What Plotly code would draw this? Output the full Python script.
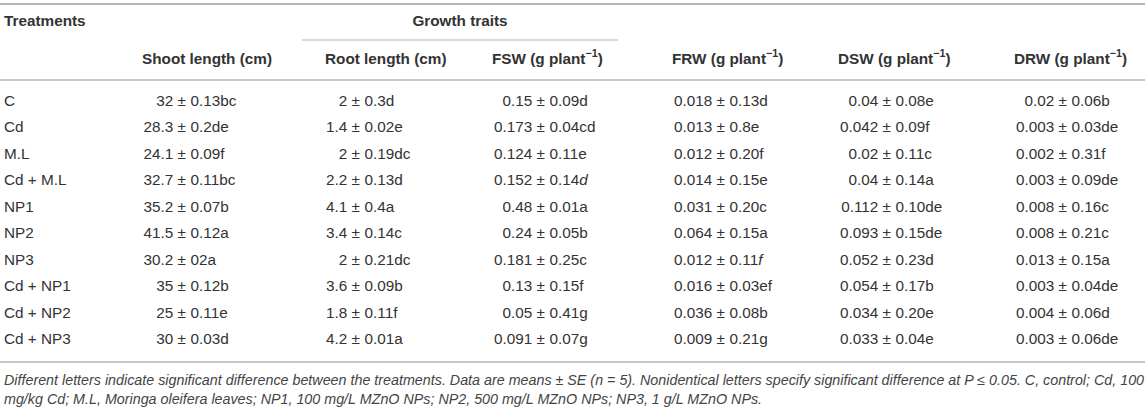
import plotly.graph_objects as go

# Данные таблицы
treatments = ["C", "Cd", "M.L", "Cd + M.L", "NP1", "NP2", "NP3",
              "Cd + NP1", "Cd + NP2", "Cd + NP3"]

shoot = ["32 ± 0.13bc", "28.3 ± 0.2de", "24.1 ± 0.09f", "32.7 ± 0.11bc",
         "35.2 ± 0.07b", "41.5 ± 0.12a", "30.2 ± 02a", "35 ± 0.12b",
         "25 ± 0.11e", "30 ± 0.03d"]
root = ["2 ± 0.3d", "1.4 ± 0.02e", "2 ± 0.19dc", "2.2 ± 0.13d", "4.1 ± 0.4a",
        "3.4 ± 0.14c", "2 ± 0.21dc", "3.6 ± 0.09b", "1.8 ± 0.11f", "4.2 ± 0.01a"]
fsw = ["0.15 ± 0.09d", "0.173 ± 0.04cd", "0.124 ± 0.11e", "0.152 ± 0.14<i>d</i>",
       "0.48 ± 0.01a", "0.24 ± 0.05b", "0.181 ± 0.25c", "0.13 ± 0.15f",
       "0.05 ± 0.41g", "0.091 ± 0.07g"]
frw = ["0.018 ± 0.13d", "0.013 ± 0.8e", "0.012 ± 0.20f", "0.014 ± 0.15e",
       "0.031 ± 0.20c", "0.064 ± 0.15a", "0.012 ± 0.11<i>f</i>", "0.016 ± 0.03ef",
       "0.036 ± 0.08b", "0.009 ± 0.21g"]
dsw = ["0.04 ± 0.08e", "0.042 ± 0.09f", "0.02 ± 0.11c", "0.04 ± 0.14a",
       "0.112 ± 0.10de", "0.093 ± 0.15de", "0.052 ± 0.23d", "0.054 ± 0.17b",
       "0.034 ± 0.20e", "0.033 ± 0.04e"]
drw = ["0.02 ± 0.06b", "0.003 ± 0.03de", "0.002 ± 0.31f", "0.003 ± 0.09de",
       "0.008 ± 0.16c", "0.008 ± 0.21c", "0.013 ± 0.15a", "0.003 ± 0.04de",
       "0.004 ± 0.06d", "0.003 ± 0.06de"]

headers = ["Shoot length (cm)", "Root length (cm)", "FSW (g plant<sup>−1</sup>)",
           "FRW (g plant<sup>−1</sup>)", "DSW (g plant<sup>−1</sup>)",
           "DRW (g plant<sup>−1</sup>)"]
group_title = "Growth traits"
first_header = "Treatments"

footnote = ("<i>Different letters indicate significant difference between the treatments. "
            "Data are means ± SE (n = 5). Nonidentical letters specify significant difference "
            "at P ≤ 0.05. C, control; Cd, 100<br>mg/kg Cd; M.L, Moringa oleifera leaves; "
            "NP1, 100 mg/L MZnO NPs; NP2, 500 mg/L MZnO NPs; NP3, 1 g/L MZnO NPs.</i>")

# Раскладка (в пикселях)
W, H = 1145, 412
col_left = [142, 325, 492, 672, 838, 1014]   # левый край заголовков колонок
pm_x = [186, 360, 545, 725, 891, 1067]       # положение знака ±
row0, row_step = 102, 26.5
row_y = [row0 + i * row_step for i in range(len(treatments))]

FONT = "Liberation Sans, Arial, sans-serif"
TXT = "#333333"
RULE = "#b4b4b4"
SIZE = 15.3

fig = go.Figure()

# Первая колонка
fig.add_trace(go.Scatter(x=[4] * len(treatments), y=row_y, text=treatments,
                         mode="text", textposition="middle right",
                         textfont=dict(family=FONT, size=SIZE, color=TXT)))

# Колонки со значениями: выравнивание по знаку ±
for col, xp in zip([shoot, root, fsw, frw, dsw, drw], pm_x):
    left = [v.split(" ± ")[0] + " ±" for v in col]
    right = [v.split(" ± ")[1] for v in col]
    fig.add_trace(go.Scatter(x=[xp] * len(col), y=row_y, text=left, mode="text",
                             textposition="middle left",
                             textfont=dict(family=FONT, size=SIZE, color=TXT)))
    fig.add_trace(go.Scatter(x=[xp + 4.5] * len(col), y=row_y, text=right, mode="text",
                             textposition="middle right",
                             textfont=dict(family=FONT, size=SIZE, color=TXT)))

# Заголовки
bold = dict(family=FONT, size=SIZE, color=TXT, weight="bold")
fig.add_trace(go.Scatter(x=[4], y=[22], text=[first_header], mode="text",
                         textposition="middle right", textfont=bold))
fig.add_trace(go.Scatter(x=[460], y=[22], text=[group_title], mode="text",
                         textposition="middle center", textfont=bold))
fig.add_trace(go.Scatter(x=col_left, y=[60] * len(headers), text=headers, mode="text",
                         textposition="middle right", textfont=bold))

# Линии таблицы
fig.add_shape(type="line", x0=0, x1=W, y0=4, y1=4, line=dict(color=RULE, width=2))
fig.add_shape(type="line", x0=302, x1=618, y0=40, y1=40, line=dict(color=RULE, width=1.2))
fig.add_shape(type="line", x0=0, x1=W, y0=80, y1=80, line=dict(color=RULE, width=1.5))
fig.add_shape(type="line", x0=0, x1=W, y0=362, y1=362, line=dict(color=RULE, width=1.5))

# Примечание
fig.add_annotation(x=2, y=389, xref="x", yref="y", text=footnote, showarrow=False,
                   xanchor="left", yanchor="middle", align="left",
                   font=dict(family=FONT, size=14.3, color="#444444"))

fig.update_layout(width=W, height=H, margin=dict(l=0, r=0, t=0, b=0),
                  paper_bgcolor="white", plot_bgcolor="white", showlegend=False,
                  xaxis=dict(range=[0, W], visible=False, fixedrange=True),
                  yaxis=dict(range=[H, 0], visible=False, fixedrange=True))

# убираем стандартный отступ страницы, чтобы таблица начиналась с края окна
fig.write_html("out.html", config={"displayModeBar": False},
               post_script="document.body.style.margin='0px';")
